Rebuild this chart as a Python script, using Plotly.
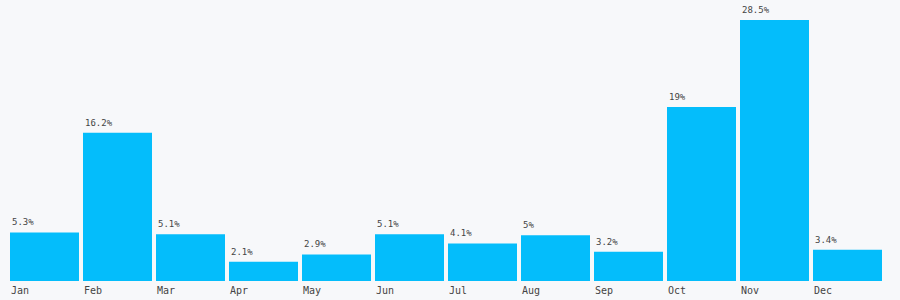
import plotly.graph_objects as go

months = ["Jan", "Feb", "Mar", "Apr", "May", "Jun", "Jul", "Aug", "Sep", "Oct", "Nov", "Dec"]
values = [5.3, 16.2, 5.1, 2.1, 2.9, 5.1, 4.1, 5.0, 3.2, 19.0, 28.5, 3.4]
labels = ["5.3%", "16.2%", "5.1%", "2.1%", "2.9%", "5.1%", "4.1%", "5%", "3.2%", "19%", "28.5%", "3.4%"]

BAR = "#04bdfb"
TXT = "#444444"
FONT = "DejaVu Sans Mono"

fig = go.Figure(go.Bar(x=months, y=values, marker=dict(color=BAR, line=dict(width=0)),
                       hoverinfo="skip"))

half = 73 * (1 - 4 / 73) / 2  # half bar width in px
for m, v, t in zip(months, values, labels):
    fig.add_annotation(x=m, y=v, text=t, showarrow=False, xanchor="left", yanchor="bottom",
                       xshift=-half, yshift=3, font=dict(family=FONT, size=9, color=TXT))
    fig.add_annotation(x=m, y=0, text=m, showarrow=False, xanchor="left", yanchor="top",
                       xshift=-half - 1, yshift=-2, font=dict(family=FONT, size=10, color=TXT))

fig.update_layout(
    width=900, height=300,
    margin=dict(l=8, r=16, t=20, b=19),
    paper_bgcolor="#f7f8fa", plot_bgcolor="#f7f8fa",
    bargap=4 / 73,
    showlegend=False,
    xaxis=dict(showticklabels=False, showgrid=False, zeroline=False, showline=False, ticks=""),
    yaxis=dict(range=[0, 28.5], showticklabels=False, showgrid=False, zeroline=False,
               showline=False, ticks=""),
)
fig.write_html("out.html")
